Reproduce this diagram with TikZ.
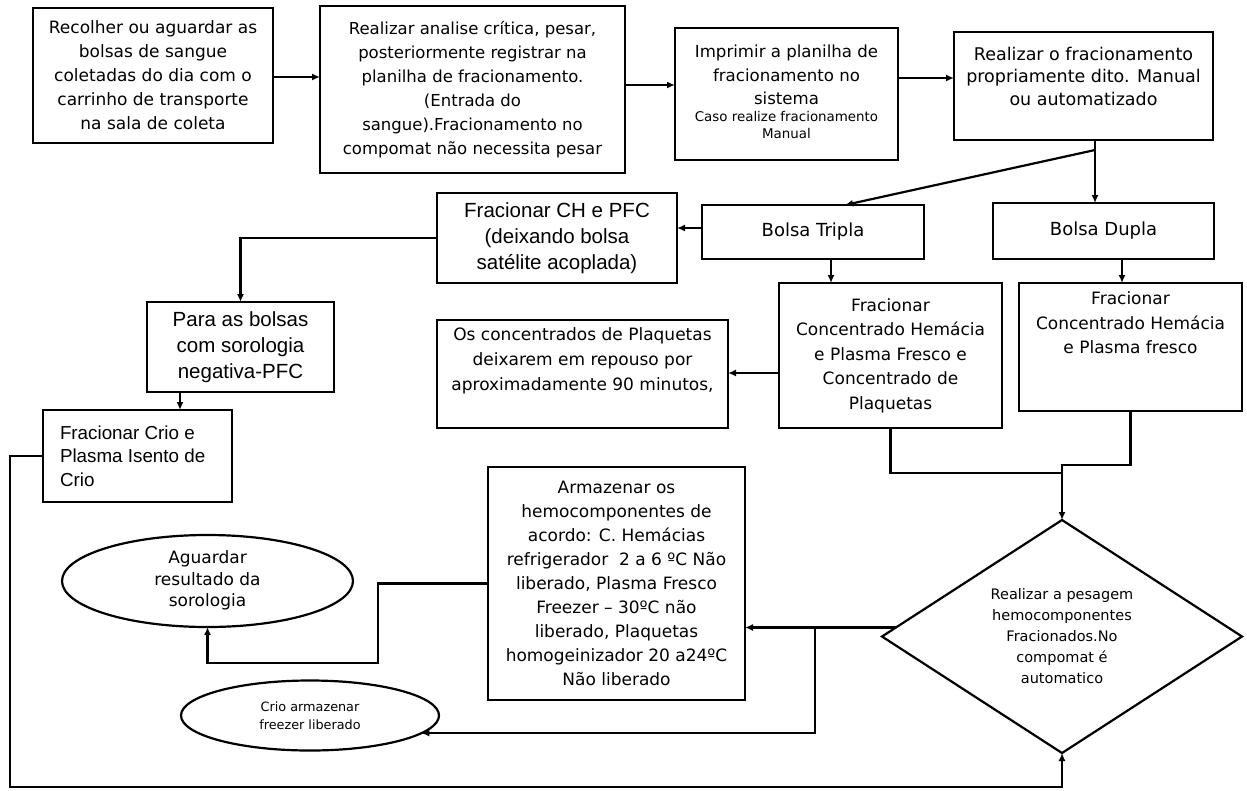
\documentclass[tikz,border=0pt]{standalone}
\usepackage{fontspec}
\setmainfont{DejaVu Sans}
\newfontfamily\arialfont{Liberation Sans}
\usetikzlibrary{arrows.meta,shapes.geometric}

% text block of fixed size: width, height, vertical position, content
\newcommand\txtbox[4]{\begin{minipage}[c][#2][#3]{#1}\centering #4\end{minipage}}
\newcommand\setfs[2]{\fontsize{#1}{#2}\selectfont}

\begin{document}
\begin{tikzpicture}[x=1pt,y=-1pt,
  box/.style={draw,line width=2.2pt,inner sep=0pt,outer sep=0pt},
  oval/.style={draw,ellipse,line width=2.2pt,inner sep=0pt,outer sep=0pt,align=center},
  arr/.style={line width=2.2pt,-{Latex[length=8pt,width=7pt]}},
  link/.style={line width=2.2pt}]
\useasboundingbox (0,0) rectangle (1247,790);

% ---------- top row ----------
\node[box] (A) at (153,75.5) {\txtbox{240pt}{135pt}{c}{\setfs{17}{24}Recolher ou aguardar as\\bolsas de sangue\\coletadas do dia com o\\carrinho de transporte\\na sala de coleta}};
\node[box] (B) at (472.5,89.5) {\txtbox{305pt}{167pt}{c}{\setfs{16.5}{24}Realizar analise crítica, pesar,\\posteriormente registrar na\\planilha de fracionamento.\\(Entrada do\\sangue).Fracionamento no\\compomat não necessita pesar}};
\node[box] (C) at (786.5,94) {\txtbox{223pt}{132pt}{t}{\vspace*{17pt}\setfs{16.6}{23.5}Imprimir a planilha de\\fracionamento no\\sistema\par\setfs{13.4}{17}Caso realize fracionamento\\Manual}};
\node[box] (D) at (1083.5,86) {\txtbox{259pt}{108pt}{t}{\vspace*{15pt}\setfs{17.5}{22.5}Realizar o fracionamento\\propriamente dito. Manual\\ou automatizado}};

% ---------- bag type ----------
\node[box] (CH) at (557,238) {\txtbox{240pt}{90pt}{c}{\arialfont\setfs{20.5}{26}Fracionar CH e PFC\\(deixando bolsa\\satélite acoplada)}};
\node[box] (Tripla) at (813,232) {\txtbox{222pt}{54pt}{c}{\setfs{18}{22}Bolsa Tripla}};
\node[box] (Dupla) at (1103.5,231) {\txtbox{221pt}{56pt}{c}{\setfs{18}{22}Bolsa Dupla}};

% ---------- fractionation ----------
\node[box] (Para) at (240.5,347) {\txtbox{187pt}{90pt}{c}{\arialfont\setfs{20.5}{26}Para as bolsas\\com sorologia\\negativa-PFC}};
\node[box] (Os) at (582.5,374) {\txtbox{291pt}{108pt}{t}{\vspace*{8pt}\setfs{17}{25}Os concentrados de Plaquetas\\deixarem em repouso por\\aproximadamente 90 minutos,}};
\node[box] (FracT) at (890.5,355.5) {\txtbox{223pt}{145pt}{c}{\setfs{17}{24.5}Fracionar\\Concentrado Hemácia\\e Plasma Fresco e\\Concentrado de\\Plaquetas}};
\node[box] (FracD) at (1130.5,347) {\txtbox{223pt}{128pt}{t}{\vspace*{9pt}\setfs{17}{24.5}Fracionar\\Concentrado Hemácia\\e Plasma fresco}};
\node[box] (CrioB) at (137.5,456) {\begin{minipage}[c][92pt][c]{189pt}\leftskip=17pt\arialfont\setfs{18.8}{23.5}Fracionar Crio e\\Plasma Isento de\\Crio\end{minipage}};

% ---------- storage ----------
\node[box] (Arm) at (616.5,583.5) {\txtbox{257pt}{233pt}{c}{\setfs{17}{24}Armazenar os\\hemocomponentes de\\acordo: C. Hemácias\\refrigerador\ \ 2 a 6 ºC Não\\liberado, Plasma Fresco\\Freezer – 30ºC não\\liberado, Plaquetas\\homogeinizador 20 a24ºC\\Não liberado}};
\node[oval,minimum width=291pt,minimum height=92pt,font=\setfs{17}{21.5}] (Ag) at (207.5,581) {\raisebox{-5pt}{\begin{tabular}{@{}c@{}}Aguardar\\resultado da\\sorologia\end{tabular}}};
\node[oval,minimum width=258pt,minimum height=70pt,font=\setfs{12.8}{18}] (CrioE) at (310,715.5) {Crio armazenar\\freezer liberado};
\node[draw,diamond,line width=2.2pt,inner sep=0pt,outer sep=0pt,aspect=1.545,minimum width=360pt,minimum height=233pt,align=center,font=\setfs{14.5}{21}] (Dia) at (1062,636.5) {Realizar a pesagem\\hemocomponentes\\Fracionados.No\\compomat é\\automatico};

% ---------- guide coordinates ----------
\coordinate (h77) at (0,77);
\coordinate (h85) at (0,85);
\coordinate (h78) at (0,78);
\coordinate (v1095) at (1095,0);
\coordinate (split) at (1095,150);
\coordinate (v845) at (845,0);
\coordinate (h228) at (0,228);
\coordinate (v831) at (831,0);
\coordinate (v1122) at (1122,0);
\coordinate (v180) at (180,0);
\coordinate (h373) at (0,373);
\coordinate (joinT) at (1062,473);
\coordinate (joinD) at (1062,465);
\coordinate (tap) at ([shift={(14,-9)}]Dia.west);
\coordinate (v815) at (815,0);
\coordinate (fork) at (tap -| v815);
\coordinate (bend) at (378,663);
\coordinate (corner) at (10,787);

% ---------- connectors ----------
\draw[arr] (A.east |- h77) -- (B.west |- h77);
\draw[arr] (B.east |- h85) -- (C.west |- h85);
\draw[arr] (C.east |- h78) -- (D.west |- h78);
\draw[arr] (D.south -| v1095) -- (Dupla.north -| v1095);
\draw[arr] (split) -- (Tripla.north -| v845);
\draw[arr] (Tripla.west |- h228) -- (CH.east |- h228);
\draw[arr] (Tripla.south -| v831) -- (FracT.north -| v831);
\draw[arr] (Dupla.south -| v1122) -- (FracD.north -| v1122);
\draw[arr] (CH.west) -| (Para.north);
\draw[arr] (Para.south -| v180) -- (CrioB.north -| v180);
\draw[arr] (FracT.west |- h373) -- (Os.east |- h373);
\draw[link] (FracT.south) |- (joinT);
\draw[arr] (FracD.south) |- (joinD) -- (Dia.north);
\draw[arr] (tap) -- (Arm.east |- tap);
\draw[arr] (fork) |- (CrioE.-9);
\draw[arr] (Arm.west) -| (bend) -| (Ag.south);
\draw[arr] (CrioB.west) -| (corner) -| (Dia.south);
\end{tikzpicture}
\end{document}
